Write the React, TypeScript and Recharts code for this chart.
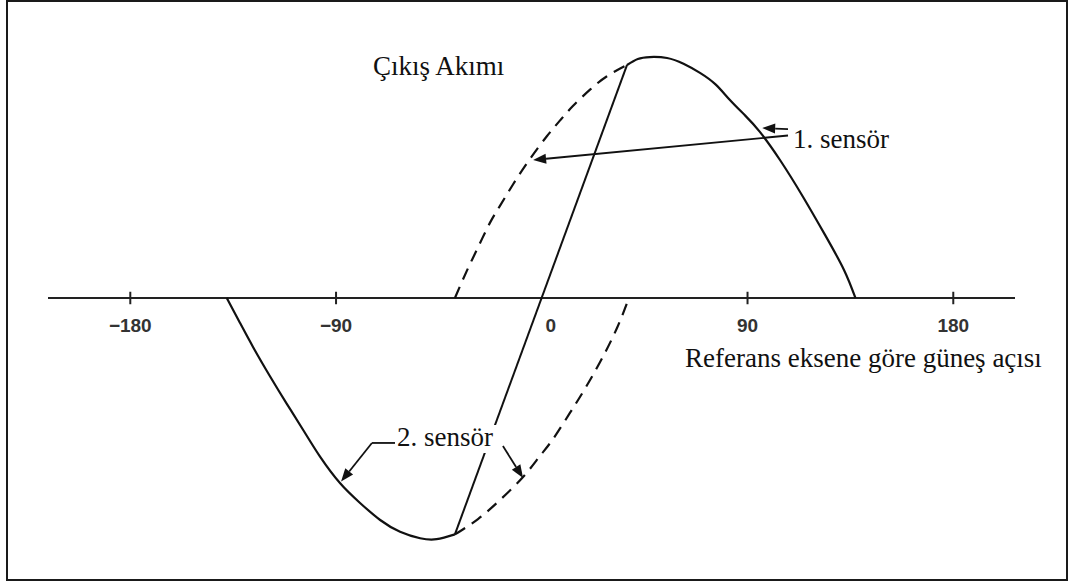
import React from 'react';
import { LineChart, Line, XAxis, YAxis, ReferenceLine } from 'recharts';

// Angle (degrees) vs. output current (relative units, peak ≈ 100)
const sensor1Solid = [
  { d: 37.3, v: 97.1 },
  { d: 42.0, v: 99.6 },
  { d: 47.3, v: 100.4 },
  { d: 54.8, v: 100 },
  { d: 62.0, v: 97.6 },
  { d: 69.2, v: 93.8 },
  { d: 76.0, v: 89 },
  { d: 82.3, v: 82.5 },
  { d: 89.0, v: 76 },
  { d: 95.4, v: 69.2 },
  { d: 104.2, v: 57.5 },
  { d: 114.3, v: 42.1 },
  { d: 123.9, v: 26.3 },
  { d: 132.2, v: 11.7 },
  { d: 137.2, v: 0 },
];

const sensor1Dashed = [
  { d: -38.0, v: 0 },
  { d: -32.7, v: 11.5 },
  { d: -27.9, v: 21.1 },
  { d: -22.7, v: 31.3 },
  { d: -18.3, v: 38.4 },
  { d: -12.6, v: 47.3 },
  { d: -5.2, v: 57.9 },
  { d: 2.3, v: 67.5 },
  { d: 8.0, v: 74 },
  { d: 13.6, v: 80 },
  { d: 21.1, v: 86.8 },
  { d: 28.5, v: 92.4 },
  { d: 37.3, v: 97.1 },
];

const sensor2Solid = [
  { d: -137.8, v: 0 },
  { d: -132.0, v: -10.4 },
  { d: -126.2, v: -20.6 },
  { d: -118.9, v: -32.6 },
  { d: -111.6, v: -44.0 },
  { d: -104.3, v: -55.1 },
  { d: -97.0, v: -66.1 },
  { d: -88.2, v: -77.2 },
  { d: -79.5, v: -85.4 },
  { d: -70.7, v: -92.5 },
  { d: -62.0, v: -97.4 },
  { d: -53.2, v: -100.1 },
  { d: -46.0, v: -100.5 },
  { d: -38.0, v: -98.5 },
];

const sensor2Dashed = [
  { d: -38.0, v: -98.5 },
  { d: -27.9, v: -92.1 },
  { d: -18.3, v: -84.2 },
  { d: -8.2, v: -74.6 },
  { d: -0.8, v: -65.8 },
  { d: 4.9, v: -58.8 },
  { d: 12.3, v: -47.9 },
  { d: 18.0, v: -39.2 },
  { d: 25.5, v: -26.7 },
  { d: 32.9, v: -12.5 },
  { d: 38.1, v: 0 },
];

const differenceLine = [
  { d: -38.0, v: -98.5 },
  { d: 37.3, v: 97.1 },
];

const tickValues = [-180, -90, 0, 90, 180];
const tickLabels = ['−180', '−90', '0', '90', '180'];

const titleY = 'Çıkış Akımı';
const titleX = 'Referans eksene göre güneş açısı';
const label1 = '1. sensör';
const label2 = '2. sensör';

// annotation arrows in data coordinates
const arrows: { a: { x: number; y: number }; b: { x: number; y: number }; head: boolean }[] = [
  { a: { x: 107.7, y: 67.7 }, b: { x: -3.8, y: 57.5 }, head: true },
  { a: { x: 107.7, y: 70.4 }, b: { x: 96.4, y: 70.8 }, head: true },
  { a: { x: -64.2, y: -60.4 }, b: { x: -74.3, y: -60.4 }, head: false },
  { a: { x: -74.3, y: -60.4 }, b: { x: -87.8, y: -76.5 }, head: true },
  { a: { x: -17, y: -61.7 }, b: { x: -8.2, y: -75 }, head: true },
];

const INK = '#111';

const arrowShape = (head: boolean) => (p: any) => {
  const { x1, y1, x2, y2 } = p;
  const ang = Math.atan2(y2 - y1, x2 - x1);
  const L = 13;
  const W = 5;
  const bx = x2 - L * Math.cos(ang);
  const by = y2 - L * Math.sin(ang);
  const px = -Math.sin(ang) * W;
  const py = Math.cos(ang) * W;
  return (
    <g>
      <line x1={x1} y1={y1} x2={head ? bx : x2} y2={head ? by : y2} stroke={INK} strokeWidth={1.8} />
      {head && (
        <polygon points={`${x2},${y2} ${bx + px},${by + py} ${bx - px},${by - py}`} fill={INK} />
      )}
    </g>
  );
};

const tickShape = (value: number, label: string) => (p: any) => {
  const { x1, y1, y2 } = p;
  const mid = (y1 + y2) / 2;
  return (
    <g>
      {value !== 0 && <line x1={x1} y1={y1} x2={x1} y2={y2} stroke="#222" strokeWidth={2} />}
      <text
        x={x1 + (value === 0 ? 9 : 0)}
        y={mid + 34}
        textAnchor="middle"
        fontFamily="'Liberation Sans', Arial, sans-serif"
        fontSize={19}
        fontWeight="bold"
        fill="#333"
      >
        {label}
      </text>
    </g>
  );
};

export default function App() {
  return (
    <div style={{ position: 'absolute', left: 0, top: 0, width: 1072, height: 585, background: '#fff' }}>
      <div
        style={{
          position: 'absolute',
          left: 6,
          top: 0,
          width: 1062,
          height: 581,
          boxSizing: 'border-box',
          border: '2px solid #1a1a1a',
        }}
      />
      <div style={{ position: 'absolute', left: 0, top: 0 }}>
        <LineChart width={1072} height={585} margin={{ top: 34, right: 57, bottom: 23, left: 48 }}>
          <XAxis type="number" dataKey="d" domain={[-216, 207]} hide allowDataOverflow />
          <YAxis type="number" domain={[-110, 110]} hide allowDataOverflow />
          <ReferenceLine y={0} stroke="#222" strokeWidth={2} />
          {tickValues.map((t, i) => (
            <ReferenceLine
              key={'t' + t}
              segment={[
                { x: t, y: -2.6 },
                { x: t, y: 2.6 },
              ]}
              shape={tickShape(t, tickLabels[i])}
            />
          ))}
          <Line data={sensor1Dashed} dataKey="v" type="natural" stroke={INK} strokeWidth={2.2} strokeDasharray="12 8" dot={false} activeDot={false} isAnimationActive={false} />
          <Line data={sensor1Solid} dataKey="v" type="natural" stroke={INK} strokeWidth={2.2} dot={false} activeDot={false} isAnimationActive={false} />
          <Line data={sensor2Solid} dataKey="v" type="natural" stroke={INK} strokeWidth={2.2} dot={false} activeDot={false} isAnimationActive={false} />
          <Line data={sensor2Dashed} dataKey="v" type="natural" stroke={INK} strokeWidth={2.2} strokeDasharray="12 8" dot={false} activeDot={false} isAnimationActive={false} />
          <Line data={differenceLine} dataKey="v" type="linear" stroke={INK} strokeWidth={2} dot={false} activeDot={false} isAnimationActive={false} />
          {arrows.map((a, i) => (
            <ReferenceLine key={'a' + i} segment={[a.a, a.b]} shape={arrowShape(a.head)} />
          ))}
        </LineChart>
      </div>
      <svg
        width={1072}
        height={585}
        style={{ position: 'absolute', left: 0, top: 0, pointerEvents: 'none' }}
        fontFamily="'Liberation Serif', 'Times New Roman', serif"
        fontSize={27}
        fill={INK}
      >
        <text x={373} y={75}>{titleY}</text>
        <text x={685} y={367}>{titleX}</text>
        <rect x={789} y={124} width={116} height={30} fill="#fff" />
        <text x={793} y={148}>{label1}</text>
        <rect x={395} y={425} width={104} height={28} fill="#fff" />
        <text x={397} y={446}>{label2}</text>
      </svg>
    </div>
  );
}
